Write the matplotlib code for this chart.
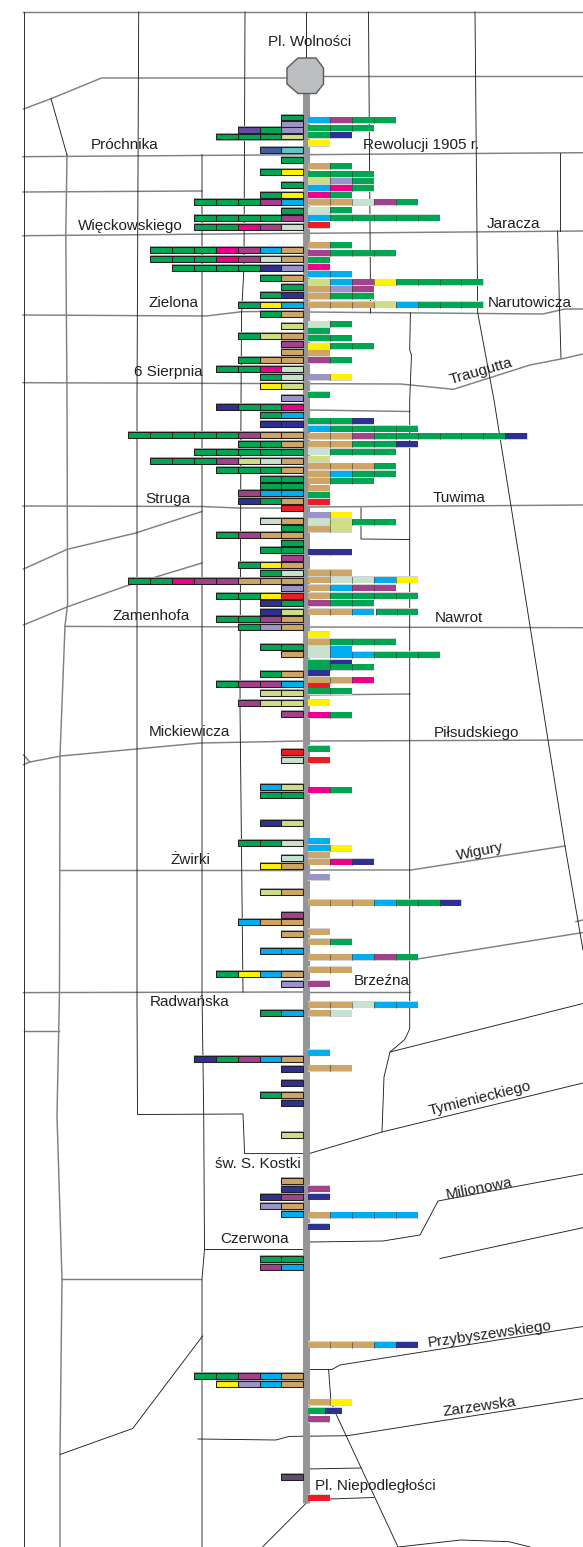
import matplotlib
matplotlib.use("Agg")
import matplotlib.pyplot as plt

plt.rcParams['font.family'] = ['Liberation Sans', 'DejaVu Sans']

COLORS = {'g': '#00A651', 'b': '#00AEEF', 'm': '#A3418B', 't': '#CFA566', 'y': '#FFF200',
          'p': '#EC008C', 'n': '#2E3192', 'l': '#9A94C8', 'o': '#CFDD85', 'c': '#C8E2CE',
          'r': '#ED1C24', 's': '#3F5F9F', 'a': '#63C2C5', 'd': '#5F4A72', 'v': '#5F4FA0'}

left_y = [117.5, 124, 130, 136.5, 150, 160, 172, 184.7, 195, 202, 210.7, 218, 226.7,
          250, 259, 268, 278, 287, 295, 304.7, 314, 326, 335.7, 343.7, 352, 360, 368.7, 377, 385.7,
          397.7, 406.7, 415, 424, 435, 444, 452, 461, 469.7, 479, 485.7, 493, 501, 508,
          520.7, 528, 535, 542.7, 550, 557.7, 565, 572.7, 580.7, 588, 596, 603, 611.7, 619, 626.7,
          647, 654, 674, 684, 693, 703, 713.7, 751.7, 759.7,
          786.7, 795, 823, 842.7, 857.7, 866, 892, 914.7, 922, 933.7, 951, 974, 984, 1013,
          1059, 1069, 1082.7, 1095, 1103, 1134.7, 1181, 1189, 1197, 1206, 1214, 1259, 1267,
          1375.7, 1384, 1477]
left_seq = ['g', 'l', 'vgl', 'gggo', 'sa', 'g', 'gy', 'g', 'gy', 'gggmb', 'g', 'ggggm', 'ggpmc',
            'gggpmbt', 'gggpmct', 'ggggnl', 'gt', 'g', 'gn', 'gyb', 'gt', 'o', 'got', 'm', 't', 'gtt', 'ggpc', 'gc', 'yo',
            'l', 'nggp', 'gb', 'nn', 'gggggmtt', 'ggt', 'ggggg', 'gggmoct', 'gggt', 'gg', 'gg', 'mbb', 'ngt', 'r',
            'ct', 'g', 'gmtt', 'g', 'gg', 'm', 'gyt', 'gc', 'ggpmmttt', 'l', 'ggyr', 'ng', 'no', 'ggmt', 'glt',
            'gg', 't', 'gt', 'gmmb', 'oo', 'moo', 'm', 'r', 'c',
            'bo', 'gg', 'no', 'ggc', 'c', 'yt', 'ot', 'm', 'btt', 't', 'bb', 'gybt', 'l', 'gb',
            'ngmbt', 'n', 'n', 'gt', 'n', 'o', 't', 'n', 'nm', 'lt', 'b', 'gg', 'mb',
            'ggmbt', 'ylbt', 'd']

right_y = [120, 128, 135, 143, 166, 174, 181, 188, 195, 202, 210, 217.7, 225,
           245, 253, 260, 267, 274, 282, 289, 296, 304.7, 324, 331, 338, 346, 353, 360, 377, 394.7,
           421, 428.7, 436, 444, 451.7, 459, 466, 473.7, 480.7, 488, 495, 502,
           515, 522, 529, 552, 572.7, 579.7, 587.7, 595.7, 603, 611.7,
           634.7, 641.7, 648.7, 654.7, 662.7, 667, 673, 680, 686, 691, 702.7, 715, 748.7, 760,
           790, 841, 848, 855, 861.7, 877, 902.7, 931.7, 941.7, 957, 969.7, 983.7, 1004.7, 1013,
           1052.7, 1068, 1188.7, 1196.7, 1215, 1226.7, 1344.7, 1402, 1410.7, 1419, 1497.7]
right_seq = ['bmgg', 'ggg', 'gn', 'y', 'tg', 'ggg', 'olg', 'bpg', 'pg', 'ttcmg', 'cg', 'bggggg', 'r',
             'tg', 'mggg', 'g', 'p', 'bb', 'obmygggg', 'tlm', 'tgg', 'tttobggg', 'cg', 'g', 'gg', 'ygg', 't', 'mg', 'ly', 'g',
             'ggn', 'bgggg', 'ttmggggggn', 'ttggn', 'cggg', 'o', 'tttg', 'tbgg', 'tgg', 't', 'g', 'r',
             'ly', 'cogg', 'to', 'nn', 'tt', 'tccby', 'tbmm', 'tgggg', 'mgg', 'ttb gg',
             'y', 'tggg', 'cb', 'cbbggg', 'gn', 'ggg', 'n', 'ttp', 'r', 'gg', 'y', 'pg', 'g', 'r',
             'pg', 'b', 'by', 't', 'tpn', 'l', 'tttbggn', 't', 'tg', 'ttbmg', 'tt', 'm', 'ttcbb', 'tc',
             'b', 'tt', 'm', 'n', 'tbbbb', 'n', 'tttbn', 'ty', 'gn', 'm', 'r']
right_widths = {611.7: [1, 1, 1, 0.1, 0.95, 0.95], 1410.7: [0.77, 0.77]}

labels = ['Pl. Wolności', 'Próchnika', 'Rewolucji 1905 r.', 'Więckowskiego', 'Jaracza', 'Zielona',
          'Narutowicza', '6 Sierpnia', 'Traugutta', 'Struga', 'Tuwima', 'Zamenhofa', 'Nawrot',
          'Mickiewicza', 'Piłsudskiego', 'Żwirki', 'Wigury', 'Brzeźna', 'Radwańska', 'Tymienieckiego',
          'św. S. Kostki', 'Milionowa', 'Czerwona', 'Przybyszewskiego', 'Zarzewska', 'Pl. Niepodległości']
label_x = [310, 124.5, 421.5, 130, 513.5, 173.5, 530, 168.5, 481, 168, 459.5, 151.5, 459, 189.5,
           476, 190, 479.5, 382, 190, 480, 257.5, 479, 254.5, 490, 479, 375]
label_y = [42, 145, 145, 226, 224, 303, 303, 372, 371, 499.5, 498, 616, 618, 732, 733, 860, 852,
           981, 1002, 1099, 1164, 1189, 1239, 1334, 1407, 1486]
label_rot = [0, 0, 0, 0, 0, 0, 0, 0, 16, 0, 0, 0, 0, 0, 0, 0, 11, 0, 0, 14, 0, 11, 0, 8, 8, 0]

# road network (x, y) in map pixels: (grey) streets and (thin) boundaries
grey_roads = [
    [(23, 12), (583, 12)],
    [(23.5, 109), (51, 98.7), (101.5, 78), (287, 78)],
    [(323, 76), (583, 76)],
    [(23, 156.7), (583, 152.7)],
    [(23, 192), (202, 191)],
    [(23, 235.7), (583, 231)],
    [(23, 315), (206, 316), (241.6, 311.7), (303, 311)],
    [(309, 312), (542.7, 314), (565, 309), (583, 309)],
    [(23, 382.7), (400.7, 384), (453.5, 389.3), (530, 365), (561, 359), (583, 354)],
    [(309, 410), (409.7, 411.5)],
    [(23, 506), (202.6, 506.5), (238, 508), (303, 508)],
    [(309, 507), (583, 505)],
    [(23.5, 569), (67, 549.4), (135.7, 533), (202, 511.5)],
    [(23.5, 625), (67, 607), (126, 586), (202, 563)],
    [(65, 626.4), (303, 627)],
    [(309, 627), (583, 627.7)],
    [(309, 695), (409.7, 694)],
    [(23.5, 764.7), (30, 762), (61, 756), (200.7, 743), (303, 741)],
    [(23.5, 755), (30, 762)],
    [(309, 741), (583, 740)],
    [(60, 870), (303, 870)],
    [(309, 870), (411, 870), (565, 846)],
    [(576, 921.6), (583, 920)],
    [(417.5, 959), (583, 932.5)],
    [(23.5, 992.6), (303, 992)],
    [(309, 992), (409.7, 992)],
    [(23.5, 1031), (58.7, 1031)],
    [(62, 1279), (200.7, 1279)],
    [(67, 155), (65.8, 235), (67, 400), (67.6, 604), (65, 626), (60, 756), (59.5, 992), (58.7, 1031),
     (57, 1115.6), (62, 1279), (60, 1454), (60, 1547)],
]
thin_roads = [
    [(23.5, 12), (23.5, 1547)],
    [(138.7, 12), (137, 400), (137, 1000), (137.5, 1114.5), (243, 1114), (244.6, 1153.6), (303, 1153.6)],
    [(245, 12), (244, 267), (241.6, 313), (241, 400), (240, 706), (243, 992)],
    [(306, 12), (306, 58)],
    [(368.5, 12), (370.6, 313)],
    [(475, 12), (477.7, 312.7), (494, 400), (511, 506), (530, 626), (548, 740), (565, 846), (583, 950)],
    [(51, 98.7), (67, 155)],
    [(560, 153), (560, 230.7)],
    [(202, 154.7), (202, 992), (203.7, 1114), (204.5, 1249.4), (202, 1279), (202, 1547)],
    [(557.6, 231), (559.5, 308), (561, 358)],
    [(410.4, 313), (409.7, 350), (411.5, 355), (409.7, 400), (409.7, 1029), (404.5, 1039.7),
     (390, 1052), (384, 1077), (382, 1132)],
    [(361, 508), (361, 539), (409.7, 539.5)],
    [(390, 1052), (583, 1003.5)],
    [(309, 1153.6), (382, 1132), (583, 1083)],
    [(309, 1242), (383, 1241), (420, 1235), (438, 1201), (583, 1174)],
    [(440, 1258.5), (583, 1227.7)],
    [(204.5, 1249.4), (303, 1249.4)],
    [(60, 1454.5), (132.7, 1428.5), (202.6, 1336)],
    [(309, 1369.5), (332, 1369.5), (340, 1365), (583, 1326.5)],
    [(328.6, 1369.5), (331, 1402), (336, 1414), (398, 1547)],
    [(198, 1439), (276, 1440), (289, 1436.4), (347.6, 1435.7), (583, 1398.4)],
    [(306, 1469), (361, 1468)],
    [(330.5, 1499), (373.6, 1497.5)],
    [(306.7, 1502.6), (262.5, 1547)],
    [(398, 1547), (461, 1540), (509, 1541.7), (530, 1547)],
]
octagon = [(298, 58), (316, 58), (323.5, 68), (323.5, 84), (316, 93.5), (298, 93.5), (287, 84), (287, 68)]

SEG = 21.9
LEFT_END, RIGHT_START = 303.3, 308.2

fig = plt.figure(figsize=(5.83, 15.47), dpi=100)
ax = fig.add_axes([0, 0, 1, 1])
ax.set_xlim(0, 583)
ax.set_ylim(1547, 0)
ax.axis('off')

for path in grey_roads:
    xs, ys = zip(*path)
    ax.plot(xs, ys, color='#7F8082', lw=1.05, solid_joinstyle='miter', zorder=1)
for path in thin_roads:
    xs, ys = zip(*path)
    ax.plot(xs, ys, color='#231F20', lw=0.65, solid_joinstyle='miter', zorder=1)

ax.plot([305.5, 305.5], [90, 1503], color='#939598', lw=5.1, solid_capstyle='butt', zorder=2)
ax.fill(*zip(*octagon), facecolor='#BCBEC0', edgecolor='#58595B', lw=1.0, zorder=3)

for y, seq in zip(left_y, left_seq):
    pos = LEFT_END
    total = SEG * len(seq)
    ax.barh(y, total, left=pos - total, height=8.0, color='#A7A9AC', zorder=4)
    for code in reversed(seq):
        ax.barh(y, -SEG, left=pos, height=5.6, color=COLORS[code],
                edgecolor='#231F20', linewidth=0.75, zorder=5)
        pos -= SEG

for y, seq in zip(right_y, right_seq):
    widths = right_widths.get(y, [1] * len(seq))
    pos = RIGHT_START
    ax.barh(y, SEG * sum(widths) + 0.6, left=pos - 0.3, height=7.0, color='#D1D3D4', zorder=4)
    for code, w in zip(seq, widths):
        if code != ' ':
            ax.barh(y, SEG * w, left=pos, height=5.8, color=COLORS[code], edgecolor='none', zorder=5)
            if pos > RIGHT_START:
                ax.plot([pos, pos], [y - 2.9, y + 2.9], color='#3A3A3A', lw=0.4, zorder=6)
        else:
            ax.barh(y, SEG * w, left=pos, height=7.0, color='white', zorder=5)
        pos += SEG * w

for text, x, y, rot in zip(labels, label_x, label_y, label_rot):
    ax.text(x, y, text, ha='center', va='center', rotation=rot, rotation_mode='anchor',
            fontsize=11, color='#231F20', zorder=7)

fig.savefig('out.png', dpi=100, facecolor='white')
